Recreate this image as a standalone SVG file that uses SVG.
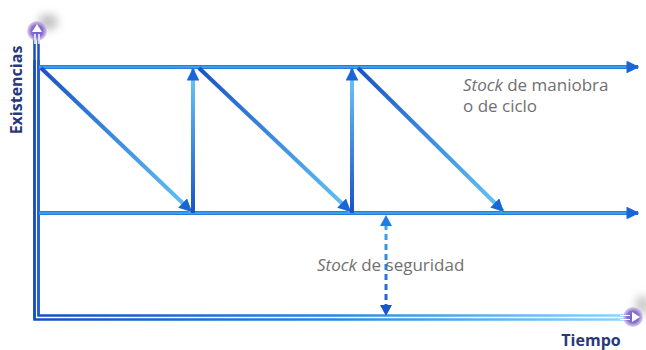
<svg xmlns="http://www.w3.org/2000/svg" width="646" height="350" viewBox="0 0 646 350">
<defs>
<style>
.lbl{font-family:"Open Sans","Noto Sans","Liberation Sans",sans-serif;font-size:17px;fill:#707070}
.it{font-style:italic}
.ax{font-family:"Open Sans","Noto Sans","Liberation Sans",sans-serif;font-size:16px;font-weight:bold;fill:#27397a}
.h,.v,.d{stroke-width:4;fill:none}
</style>
<linearGradient id="gh1" gradientUnits="userSpaceOnUse" x1="0" y1="65" x2="0" y2="69">
<stop offset="0" stop-color="#1b6ad8"/><stop offset="0.5" stop-color="#45b0f2"/><stop offset="1" stop-color="#1b6ad8"/>
</linearGradient>
<linearGradient id="gh2" gradientUnits="userSpaceOnUse" x1="0" y1="211" x2="0" y2="215">
<stop offset="0" stop-color="#1b6ad8"/><stop offset="0.5" stop-color="#45b0f2"/><stop offset="1" stop-color="#1b6ad8"/>
</linearGradient>
<linearGradient id="gax" gradientUnits="userSpaceOnUse" x1="34" y1="0" x2="630" y2="0">
<stop offset="0" stop-color="#1a4cc0"/><stop offset="0.5" stop-color="#1e8ae6"/><stop offset="1" stop-color="#8fd6fb"/>
</linearGradient>
<linearGradient id="gd1" gradientUnits="userSpaceOnUse" x1="40" y1="68" x2="192" y2="212">
<stop offset="0" stop-color="#1a52c8"/><stop offset="1" stop-color="#63c6f6"/>
</linearGradient>
<linearGradient id="gd2" gradientUnits="userSpaceOnUse" x1="198" y1="68" x2="351" y2="212">
<stop offset="0" stop-color="#1a52c8"/><stop offset="1" stop-color="#63c6f6"/>
</linearGradient>
<linearGradient id="gd3" gradientUnits="userSpaceOnUse" x1="357" y1="68" x2="503" y2="212">
<stop offset="0" stop-color="#1a52c8"/><stop offset="1" stop-color="#63c6f6"/>
</linearGradient>
<linearGradient id="gv" gradientUnits="userSpaceOnUse" x1="0" y1="213" x2="0" y2="69">
<stop offset="0" stop-color="#1a52c8"/><stop offset="1" stop-color="#6ccaf7"/>
</linearGradient>
<linearGradient id="gdash" gradientUnits="userSpaceOnUse" x1="0" y1="216" x2="0" y2="316">
<stop offset="0" stop-color="#40b0f5"/><stop offset="1" stop-color="#1a55cc"/>
</linearGradient>
<radialGradient id="gc" cx="0.5" cy="0.5" r="0.5">
<stop offset="0" stop-color="#5b5fd0"/><stop offset="0.6" stop-color="#8a72cc"/><stop offset="1" stop-color="#c9b2e6" stop-opacity="0.6"/>
</radialGradient>
<filter id="blur" x="-1" y="-1" width="3" height="3"><feGaussianBlur stdDeviation="4"/></filter>
<marker id="ah" viewBox="0 0 10 10" refX="9" refY="5" markerWidth="3.2" markerHeight="3.2" orient="auto" markerUnits="strokeWidth">
<path d="M0,0 L10,5 L0,10 Z" fill="#1b66d6"/>
</marker>
</defs>

<g id="axes">
<ellipse cx="48" cy="22" rx="10" ry="8" fill="#9a9a9a" opacity="0.6" filter="url(#blur)"/>
<ellipse cx="643" cy="305" rx="8" ry="10" fill="#9a9a9a" opacity="0.5" filter="url(#blur)"/>
<path d="M34.5,32 V319.5 H630" stroke="url(#gax)" stroke-width="2.5" fill="none"/>
<path d="M38.5,32 V315.5 H630" stroke="url(#gax)" stroke-width="2.5" fill="none"/>
<path d="M34.5,60 V319.5" stroke="#1a4cc0" stroke-width="2.5" fill="none"/>
<path d="M38.5,60 V315.5" stroke="#1f5fd2" stroke-width="2.5" fill="none"/>
<circle cx="37" cy="31" r="10" fill="url(#gc)"/>
<path d="M37,24 L42,32 L32,32 Z" fill="#ffffff"/>
<path d="M35,34 V44 M39,34 V44" stroke="#ffffff" stroke-width="1.5"/>
<circle cx="633" cy="317" r="10" fill="url(#gc)"/>
<path d="M640,317 L632,312 L632,322 Z" fill="#ffffff"/>
<path d="M620,315.5 H630 M620,319.5 H630" stroke="#ffffff" stroke-width="1.2"/>
</g>

<g id="label-existencias"><text class="ax" transform="translate(22,90) rotate(-90)" text-anchor="middle">Existencias</text></g>
<g id="label-tiempo"><text class="ax" x="591" y="346" text-anchor="middle">Tiempo</text></g>

<g id="connectors">
<path class="h" stroke="url(#gh1)" d="M39,67 H638" marker-end="url(#ah)"/>
<path class="h" stroke="url(#gh2)" d="M39,213 H638" marker-end="url(#ah)"/>
<path class="d" stroke="url(#gd1)" d="M41,68 L191,211" marker-end="url(#ah)"/>
<path class="d" stroke="url(#gd2)" d="M199,68 L350,211" marker-end="url(#ah)"/>
<path class="d" stroke="url(#gd3)" d="M358,68 L503,211" marker-end="url(#ah)"/>
<path class="v" stroke="url(#gv)" d="M193,213 V69" marker-end="url(#ah)"/>
<path class="v" stroke="url(#gv)" d="M352,213 V69" marker-end="url(#ah)"/>
<path d="M386,224 V307" stroke="url(#gdash)" stroke-width="3" stroke-dasharray="6,4" fill="none"/>
<path d="M386,215 L392,226 L380,226 Z" fill="#1e7ce6"/>
<path d="M386,316 L392,305 L380,305 Z" fill="#1a55cc"/>
</g>

<g id="label-maniobra">
<text class="lbl" x="463" y="91"><tspan class="it">Stock</tspan> de maniobra</text>
<text class="lbl" x="463" y="112">o de ciclo</text>
</g>
<g id="label-seguridad">
<text class="lbl" x="317" y="271"><tspan class="it">Stock</tspan> de seguridad</text>
</g>
</svg>
